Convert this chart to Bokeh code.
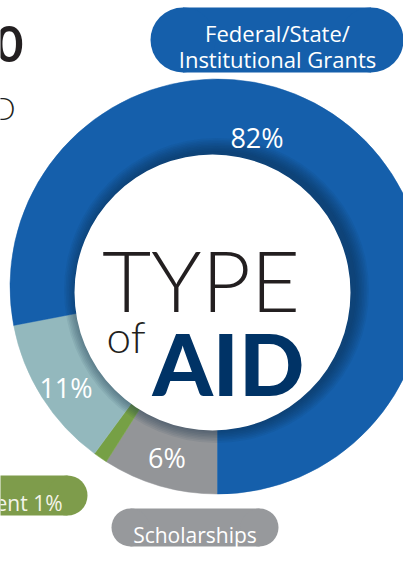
import math
from bokeh.plotting import figure
from bokeh.models import Range1d, ColumnDataSource
from bokeh.core.properties import value
from bokeh.embed import file_html
from bokeh.resources import INLINE

# ---------------- data ----------------
categories = ["Scholarships", "Student Employment", "Loans", "Federal/State/Institutional Grants"]
pct_labels = ["6%", "1%", "11%", "82%"]
# share of the ring as drawn in the picture (clockwise from 6 o'clock)
arc_share = [9.0, 1.1, 11.9, 78.0]
colors = ["#939598", "#76a045", "#93b8bd", "#155fab"]

# ---------------- layout helpers (picture pixel space) ----------------
PW, PH = 403, 551
def Y(py):
    return PH - py

p = figure(width=PW, height=PH, output_backend="svg", toolbar_location=None,
           x_range=Range1d(0, PW), y_range=Range1d(0, PH),
           x_axis_location=None, y_axis_location=None, min_border=0,
           background_fill_color="white", border_fill_color="white")
p.outline_line_color = None
p.grid.visible = False

# ---------------- donut ----------------
cx, cy, R = 217, 286, 207.5
starts, ends = [], []
cum = 0.0
for s in arc_share:
    a0 = -90 - cum * 3.6
    a1 = a0 - s * 3.6
    starts.append(math.radians(a0))
    ends.append(math.radians(a1))
    cum += s
src = ColumnDataSource(dict(cat=categories, start=starts, end=ends, color=colors))
p.wedge(x=cx, y=Y(cy), radius=R, start_angle="start", end_angle="end",
        direction="clock", fill_color="color", line_color="color", line_width=0.5, source=src)

# inner circle with soft shadow (stronger towards upper right)
icx, icy, ir = 212, 292, 138
for k in range(9, 0, -1):
    p.circle(x=icx + 4, y=Y(icy - 2), radius=ir + k * 1.6, fill_color="#0b2545",
             fill_alpha=0.07, line_color=None)
p.circle(x=icx, y=Y(icy), radius=ir, fill_color="white", line_color=None)

# percentage labels
lab_x = [166.5, None, 65.5, 256.5]
lab_y = [457, None, 387, 137]
for t, lx, ly in zip(pct_labels, lab_x, lab_y):
    if lx is None:
        continue
    p.text(x=[lx], y=[Y(ly)], text=[t], text_color="white", text_font=value("Open Sans"),
           text_font_size="27px", text_align="center", text_baseline="alphabetic")

# centre title
p.text(x=[200.5], y=[Y(278)], text=["TYPE"], text_color="#231f20", text_font=value("Lato Light"),
       text_font_size="85px", text_align="center", text_baseline="alphabetic")
p.text(x=[106], y=[Y(335)], text=["of"], text_color="#231f20", text_font=value("Lato Light"),
       text_font_size="44px", text_align="left", text_baseline="alphabetic")
p.text(x=[152], y=[Y(362)], text=["AID"], text_color="#003366", text_font=value("Lato Black"),
       text_font_size="86px", text_font_style="bold", text_align="left", text_baseline="alphabetic")

# ---------------- pills ----------------
def pill(x0, x1, ycen, h, color):
    r = h / 2
    p.rect(x=(x0 + x1) / 2, y=Y(ycen), width=(x1 - x0) - 2 * r, height=h,
           fill_color=color, line_color=None)
    p.circle(x=[x0 + r, x1 - r], y=[Y(ycen)] * 2, radius=r, fill_color=color, line_color=None)

pill(150, 403, 39.5, 65, "#155fab")
pill(-250, 87, 495, 40, "#7e9c4b")
pill(111, 278, 527, 38, "#97999c")

p.text(x=[277], y=[Y(32)], text=["Federal/State/"], text_color="white", text_font=value("Open Sans"),
       text_font_size="22px", text_align="center", text_baseline="alphabetic")
p.text(x=[277], y=[Y(58)], text=["Institutional Grants"], text_color="white", text_font=value("Open Sans"),
       text_font_size="22px", text_align="center", text_baseline="alphabetic")
p.text(x=[62], y=[Y(502)], text=["Student Employment " + pct_labels[1]], text_color="#f4f4ea",
       text_font=value("Open Sans"), text_font_size="21px", text_align="right", text_baseline="alphabetic")
p.text(x=[194.5], y=[Y(534)], text=[categories[0]], text_color="white", text_font=value("Open Sans"),
       text_font_size="21px", text_align="center", text_baseline="alphabetic")

# cropped header fragments
p.text(x=[23], y=[Y(43)], text=["2020"], text_color="#231f20", text_font=value("Lato"),
       text_font_size="49px", text_font_style="bold", text_align="right", text_baseline="alphabetic")
p.text(x=[15], y=[Y(107)], text=["AWARDED"], text_color="#231f20", text_font=value("Lato Light"),
       text_font_size="31px", text_align="right", text_baseline="alphabetic")

open("out.html", "w").write(file_html(p, INLINE))
